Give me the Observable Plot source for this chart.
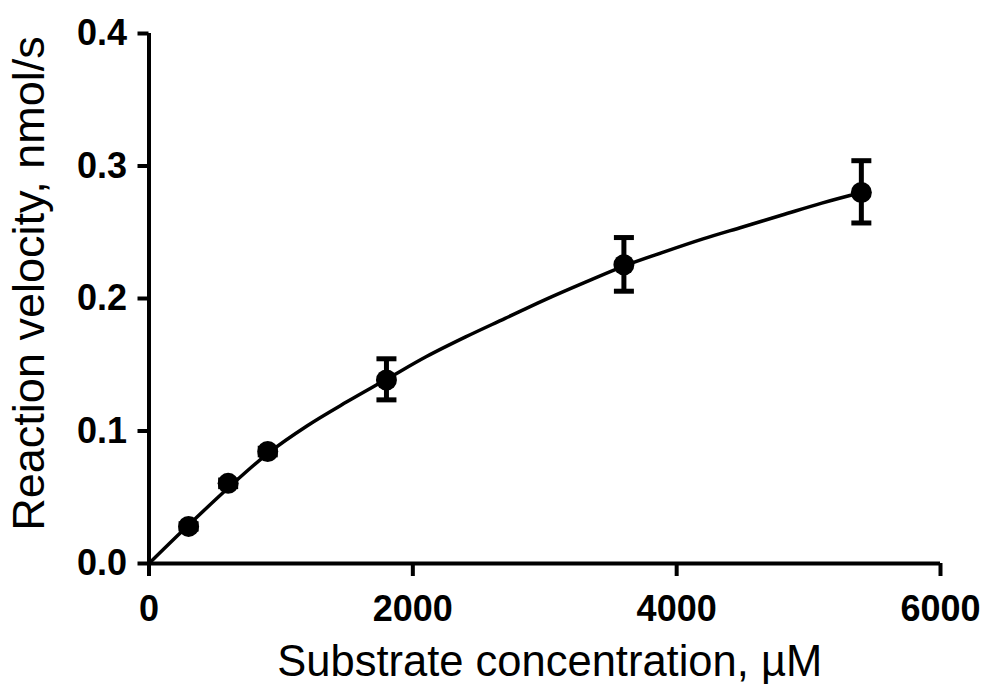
<!DOCTYPE html>
<html>
<head>
<meta charset="utf-8">
<script src="https://cdn.jsdelivr.net/npm/d3@7"></script>
<script src="https://cdn.jsdelivr.net/npm/@observablehq/plot@0.6"></script>
<style>
  html, body { margin: 0; padding: 0; background: #ffffff; }
</style>
</head>
<body>
<div id="chart"></div>
<script>
// Measured data (substrate concentration in µM, velocity in nmol/s)
const substrate = [300, 600, 900, 1800, 3600, 5400];
const velocity  = [0.028, 0.0605, 0.0845, 0.1385, 0.2255, 0.280];
const errLow    = [0.026, 0.058, 0.082, 0.1235, 0.2055, 0.257];
const errHigh   = [0.030, 0.063, 0.087, 0.1545, 0.246, 0.304];

// Fitted curve
const fitSubstrate = [0, 300, 600, 900, 1200, 1500, 1800, 2100, 2400, 2700, 3000, 3300, 3600, 3900, 4200, 4500, 4800, 5100, 5400];
const fitVelocity  = [0, 0.029, 0.057, 0.083, 0.104, 0.122, 0.139, 0.156, 0.171, 0.185, 0.199, 0.212, 0.2245, 0.235, 0.245, 0.254, 0.263, 0.272, 0.280];

// Axis ticks and labels
const xTicks = [0, 2000, 4000, 6000];
const yTicks = [0, 0.1, 0.2, 0.3, 0.4];
const xLabel = "Substrate concentration, µM";
const yLabel = "Reaction velocity, nmol/s";

const points = substrate.map((s, i) => ({s, v: velocity[i], lo: errLow[i], hi: errHigh[i]}));
const fit = fitSubstrate.map((s, i) => ({s, v: fitVelocity[i]}));

const capSymbol = {draw(ctx) { ctx.moveTo(-10, 0); ctx.lineTo(10, 0); }};
const FONT = "'Liberation Sans', Arial, Helvetica, sans-serif";

const chart = Plot.plot({
  width: 985,
  height: 684,
  marginLeft: 148.5,
  marginRight: 45,
  marginTop: 33,
  marginBottom: 121,
  style: {fontFamily: FONT, color: "black", background: "white", overflow: "visible"},
  x: {domain: [0, 6000]},
  y: {domain: [0, 0.4]},
  marks: [
    Plot.axisX(xTicks, {tickSize: 13, tickPadding: 19, tickFormat: "d", fontSize: 36, fontWeight: "bold", strokeWidth: 4, label: null}),
    Plot.axisY(yTicks, {tickSize: 11, tickPadding: 11, tickFormat: ".1f", fontSize: 36, fontWeight: "bold", strokeWidth: 4, label: null}),
    Plot.ruleX([0], {stroke: "black", strokeWidth: 4}),
    Plot.ruleY([0], {stroke: "black", strokeWidth: 4}),
    Plot.line(fit, {x: "s", y: "v", curve: "monotone-x", stroke: "black", strokeWidth: 3.5}),
    Plot.ruleX(points, {x: "s", y1: "lo", y2: "hi", stroke: "black", strokeWidth: 5}),
    Plot.dot(points, {x: "s", y: "lo", symbol: capSymbol, fill: "none", stroke: "black", strokeWidth: 5}),
    Plot.dot(points, {x: "s", y: "hi", symbol: capSymbol, fill: "none", stroke: "black", strokeWidth: 5}),
    Plot.dot(points, {x: "s", y: "v", r: 10.5, fill: "black", stroke: "none"}),
    Plot.text([xLabel], {frameAnchor: "bottom", textAnchor: "middle", dx: 5, dy: 112, fontSize: 43.5, lineAnchor: "bottom", fill: "black"}),
    Plot.text([yLabel], {frameAnchor: "left", textAnchor: "middle", rotate: -90, dx: -105.5, dy: -15, fontSize: 45, lineAnchor: "bottom", fill: "black"})
  ]
});

document.getElementById("chart").appendChild(chart);
</script>
</body>
</html>
